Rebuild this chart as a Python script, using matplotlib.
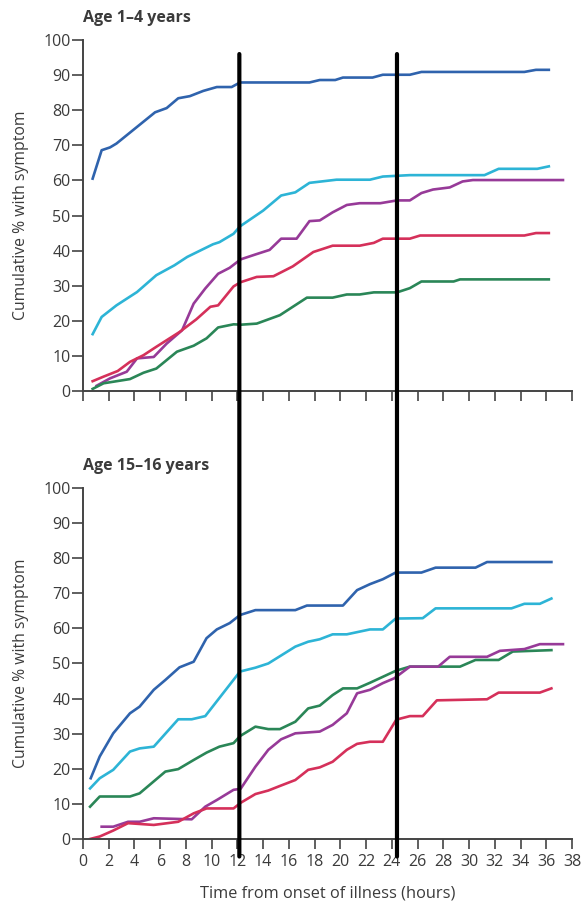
import matplotlib as mpl

mpl.use("Agg")
import matplotlib.pyplot as plt
from matplotlib.patches import ConnectionPatch

plt.rcParams["font.family"] = ["Open Sans", "DejaVu Sans"]

# age 1-4 years
top_blue_x = [0.75, 1.45, 2.1, 2.6, 5.6, 6.5, 7.4, 8.3, 9.35, 10.4, 11.55, 12.2, 17.6, 18.4,
              19.6, 20.2, 22.5, 23.3, 25.4, 26.3, 34.3, 35.2, 36.2]
top_blue_y = [60.5, 68.6, 69.4, 70.5, 79.4, 80.6, 83.4, 84.0, 85.5, 86.6, 86.6, 87.9, 87.9, 88.6,
              88.6, 89.3, 89.3, 90.1, 90.1, 90.9, 90.9, 91.5, 91.5]
top_cyan_x = [0.75, 1.45, 2.6, 4.2, 5.7, 7.1, 8.1, 9.1, 10.1, 10.6, 11.7, 12.2, 14.0, 15.4, 16.5,
              17.6, 19.7, 22.3, 23.3, 25.4, 31.2, 32.3, 35.3, 36.2]
top_cyan_y = [16.2, 21.1, 24.4, 28.2, 33.0, 35.8, 38.2, 40.0, 41.8, 42.4, 44.8, 46.9, 51.4, 55.7, 56.6,
              59.3, 60.2, 60.2, 61.1, 61.5, 61.5, 63.3, 63.3, 64.0]
top_purple_x = [1.06, 2.1, 3.4, 4.2, 5.5, 6.5, 7.7, 8.6, 9.5, 10.5, 11.4, 12.25, 13.4, 14.5, 15.4,
                16.6, 17.6, 18.4, 19.4, 20.5, 21.5, 23.1, 24.4, 25.4, 26.3, 27.2, 28.5, 29.5,
                30.3, 37.3]
top_purple_y = [1.5, 3.6, 5.5, 9.3, 9.7, 13.5, 17.3, 24.9, 29.2, 33.4, 35.1, 37.5, 38.9, 40.2, 43.4,
                43.4, 48.4, 48.6, 50.9, 53.0, 53.5, 53.5, 54.3, 54.3, 56.4, 57.4, 58.0, 59.7,
                60.1, 60.1]
top_red_x = [0.75, 1.6, 2.7, 3.65, 4.7, 5.7, 7.5, 8.8, 9.9, 10.5, 11.7, 12.25, 13.5, 14.8, 16.3,
             17.9, 19.4, 21.5, 22.6, 23.3, 25.4, 26.2, 34.3, 35.2, 36.2]
top_red_y = [2.8, 4.1, 5.7, 8.3, 10.2, 12.6, 16.8, 20.4, 24.0, 24.4, 29.8, 31.0, 32.5, 32.7, 35.5,
             39.6, 41.4, 41.4, 42.2, 43.4, 43.4, 44.3, 44.3, 45.0, 45.0]
top_green_x = [0.75, 1.6, 3.65, 4.7, 5.7, 7.3, 8.6, 9.6, 10.5, 11.7, 12.3, 13.5, 15.3, 17.4, 19.4,
               20.5, 21.5, 22.6, 24.4, 25.4, 26.3, 28.8, 29.3, 36.2]
top_green_y = [0.6, 2.2, 3.4, 5.2, 6.4, 11.2, 12.9, 15.0, 18.1, 19.0, 18.9, 19.2, 21.6, 26.6, 26.6,
               27.5, 27.5, 28.1, 28.1, 29.3, 31.2, 31.2, 31.8, 31.8]

# age 15-16 years
bot_blue_x = [0.6, 1.3, 2.35, 3.65, 4.4, 5.5, 6.4, 7.5, 8.6, 9.6, 10.4, 11.4, 12.2, 13.4, 16.5,
              17.4, 20.2, 21.3, 22.3, 23.3, 24.3, 26.3, 27.4, 30.5, 31.4, 36.4]
bot_blue_y = [17.3, 23.5, 30.1, 35.8, 37.7, 42.5, 45.3, 48.9, 50.5, 57.2, 59.7, 61.5, 63.8, 65.2, 65.2,
              66.5, 66.5, 70.9, 72.6, 74.0, 75.9, 75.9, 77.3, 77.3, 78.9, 78.9]
bot_cyan_x = [0.55, 1.3, 2.35, 3.65, 4.4, 5.5, 7.4, 8.45, 9.5, 12.2, 13.4, 14.4, 16.5, 17.5, 18.4,
              19.4, 20.5, 22.3, 23.3, 24.3, 26.4, 27.4, 33.3, 34.3, 35.5, 36.4]
bot_cyan_y = [14.4, 17.3, 19.7, 24.9, 25.8, 26.3, 34.1, 34.1, 35.0, 47.7, 48.8, 50.0, 54.8, 56.2, 56.9,
              58.3, 58.3, 59.7, 59.7, 62.8, 62.9, 65.7, 65.7, 67.0, 67.0, 68.5]
bot_green_x = [0.55, 1.3, 3.65, 4.4, 6.4, 7.4, 8.6, 9.6, 10.6, 11.7, 12.2, 13.4, 14.4, 15.3, 16.5,
               17.5, 18.4, 19.4, 20.2, 21.3, 22.3, 23.3, 24.3, 25.4, 29.3, 30.5, 32.3, 33.4, 36.4]
bot_green_y = [9.2, 12.1, 12.1, 13.0, 19.2, 19.9, 22.5, 24.6, 26.3, 27.3, 29.3, 32.0, 31.3, 31.3, 33.4,
               37.2, 38.0, 41.0, 42.9, 42.9, 44.5, 46.2, 47.9, 49.1, 49.1, 51.0, 51.0, 53.4, 53.8]
bot_purple_x = [1.45, 2.35, 3.5, 4.4, 5.5, 8.45, 9.5, 10.4, 11.7, 12.25, 13.4, 14.4, 15.4, 16.5,
                18.4, 19.4, 20.5, 21.3, 22.3, 23.3, 24.2, 25.4, 27.6, 28.5, 31.4, 32.4, 34.3,
                35.5, 37.3]
bot_purple_y = [3.5, 3.5, 4.9, 4.9, 5.9, 5.6, 9.2, 11.1, 14.0, 14.3, 20.6, 25.4, 28.4, 30.1, 30.6,
                32.5, 35.8, 41.5, 42.5, 44.4, 45.8, 49.1, 49.1, 51.9, 51.9, 53.6, 54.1, 55.5,
                55.5]
bot_red_x = [0.55, 1.3, 2.35, 3.5, 5.5, 7.4, 8.6, 9.6, 11.7, 12.25, 13.4, 14.4, 15.3, 16.5, 17.5,
             18.4, 19.4, 20.5, 21.3, 22.3, 23.3, 24.35, 25.4, 26.4, 27.5, 31.4, 32.3, 35.5, 36.4]
bot_red_y = [0.0, 0.7, 2.4, 4.5, 4.0, 4.9, 7.3, 8.7, 8.7, 10.3, 12.8, 13.8, 15.1, 16.8, 19.7, 20.4,
             22.0, 25.4, 27.1, 27.7, 27.7, 34.0, 35.0, 35.0, 39.5, 39.8, 41.7, 41.7, 42.9]

yticks = list(range(0, 101, 10))
xticks = list(range(0, 39, 2))
titles = ["Age 1\u20134 years", "Age 15\u201316 years"]
split_hours = [12.15, 24.4]

blue, cyan, purple, red, green = "#2f63ad", "#2db4d6", "#973a98", "#d5305a", "#2a8657"
text_col = "#3b3b3b"

panels = [
    [(top_blue_x, top_blue_y, blue), (top_cyan_x, top_cyan_y, cyan),
     (top_purple_x, top_purple_y, purple), (top_red_x, top_red_y, red),
     (top_green_x, top_green_y, green)],
    [(bot_blue_x, bot_blue_y, blue), (bot_cyan_x, bot_cyan_y, cyan),
     (bot_green_x, bot_green_y, green), (bot_purple_x, bot_purple_y, purple),
     (bot_red_x, bot_red_y, red)],
]

fig = plt.figure(figsize=(5.82, 9.07), dpi=100)
ax1 = fig.add_axes([0.1426, 0.5689, 0.8402, 0.387])
ax2 = fig.add_axes([0.1426, 0.0750, 0.8402, 0.387])

for ax, series, title in zip([ax1, ax2], panels, titles):
    for x, y, c in series:
        ax.plot(x, y, color=c, lw=1.9, solid_joinstyle="round")
    ax.set_xlim(0, 38)
    ax.set_ylim(0, 100)
    ax.set_xticks(xticks)
    ax.set_yticks(yticks)
    for s in ["top", "right"]:
        ax.spines[s].set_visible(False)
    for s in ["left", "bottom"]:
        ax.spines[s].set_linewidth(1.4)
        ax.spines[s].set_color("#444444")
    ax.tick_params(axis="y", direction="out", length=8, width=1.2, pad=1,
                   colors="#444444", labelcolor=text_col, labelsize=11.5)
    ax.tick_params(axis="x", direction="out", length=7, width=1.2, pad=4,
                   colors="#444444", labelcolor=text_col, labelsize=11.5)
    ax.set_ylabel("Cumulative % with symptom", fontsize=11.3, color=text_col)
    ax.yaxis.set_label_coords(-0.111, 0.5)
    ax.text(0, 1.062, title, transform=ax.transAxes, ha="left", va="center",
            fontsize=11.5, fontweight="bold", color=text_col)

ax1.tick_params(axis="x", labelbottom=False)
ax2.set_xlabel("Time from onset of illness (hours)", fontsize=11.8, color=text_col)
ax2.xaxis.set_label_coords(0.5, -0.132)

for h in split_hours:
    con = ConnectionPatch(xyA=(h, 96), coordsA=ax1.transData,
                          xyB=(h, -5), coordsB=ax2.transData,
                          color="black", lw=3, zorder=5)
    fig.add_artist(con)

fig.savefig("out.png", dpi=100)
